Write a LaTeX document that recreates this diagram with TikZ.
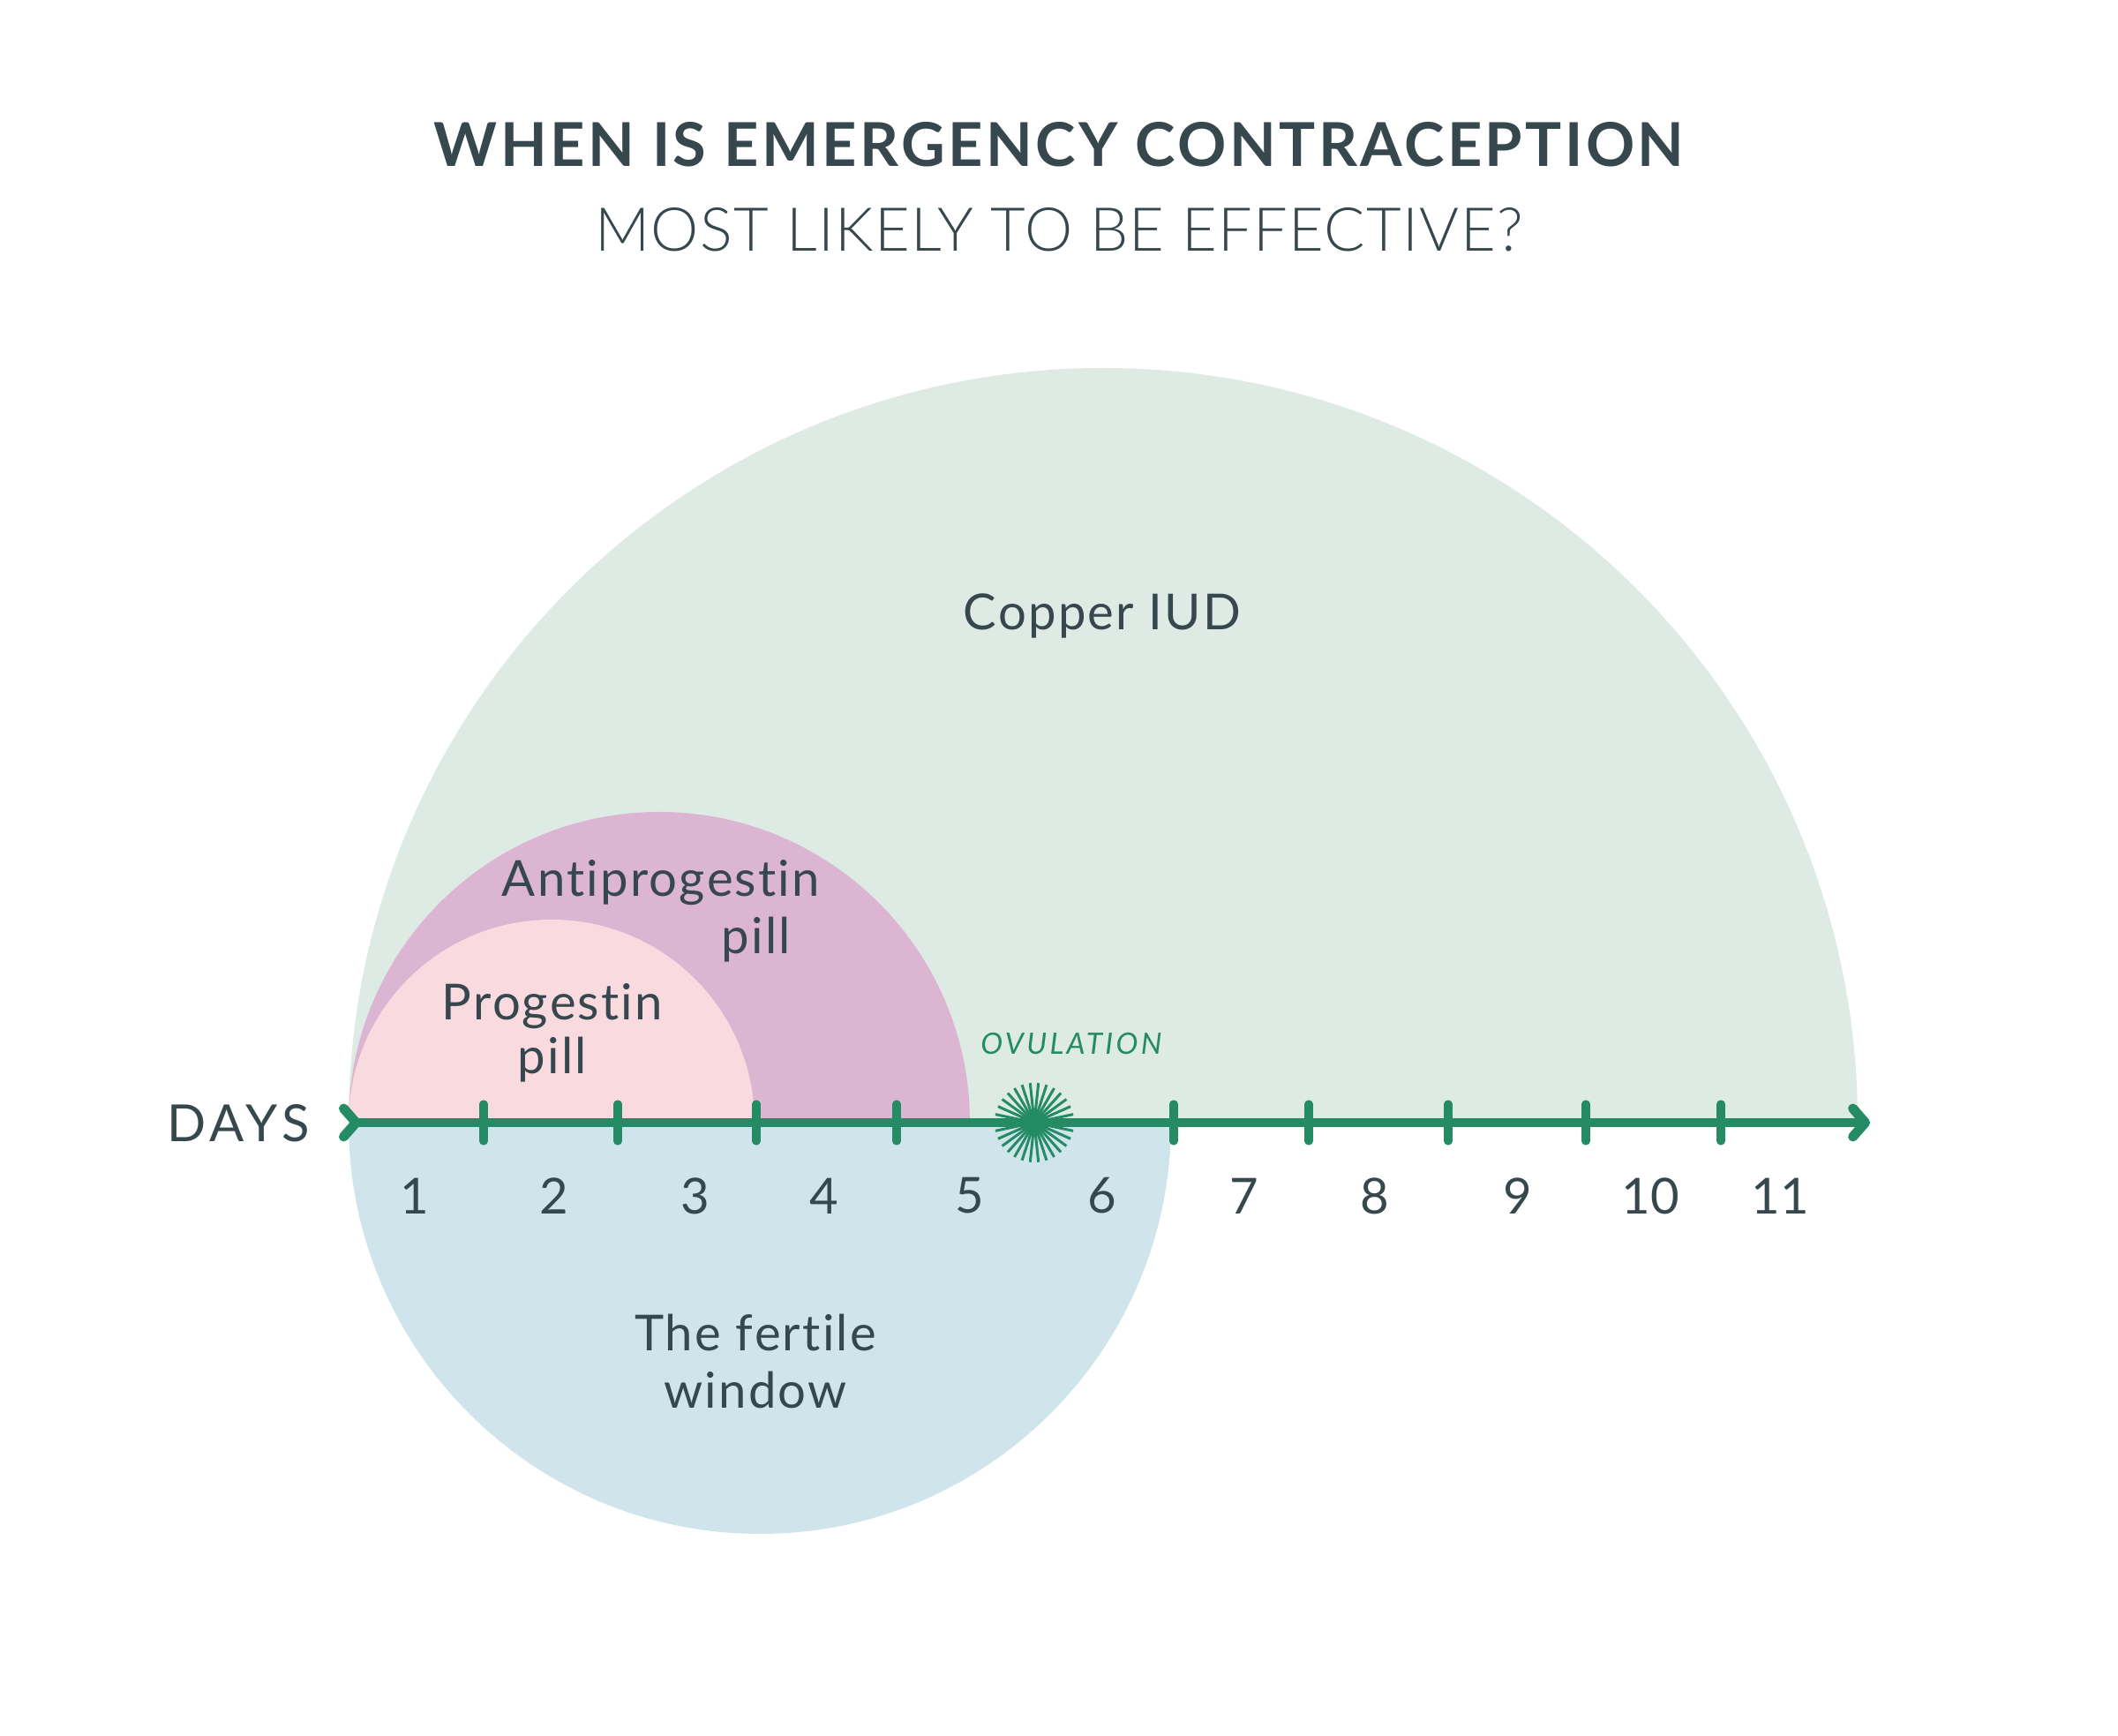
\documentclass[tikz,border=0pt]{standalone}
\usepackage{fontspec}
\setmainfont{Lato}[Ligatures=NoCommon]
\newfontfamily\lightfont{Lato Light}[Ligatures=NoCommon]
\usetikzlibrary{arrows.meta}
\definecolor{inkgrey}{RGB}{54,71,77}
\definecolor{ovgreen}{RGB}{36,139,100}
\definecolor{iudfill}{RGB}{221,235,228}
\definecolor{antifill}{RGB}{219,181,210}
\definecolor{progfill}{RGB}{249,218,222}
\definecolor{fertfill}{RGB}{207,229,235}
\tikzset{
  lbl/.style={text=inkgrey, inner sep=0pt, font=\fontsize{16}{19}\selectfont\addfontfeatures{LetterSpace=4}},
  daynum/.style={text=inkgrey, inner sep=0pt, font=\fontsize{16}{19}\selectfont},
  axisline/.style={draw=ovgreen, line width=3.1pt,
    arrows={Straight Barb[reversed,round,length=1.4mm,width=3.2mm]-Straight Barb[round,length=1.4mm,width=3.2mm]}},
  daytick/.style={draw=ovgreen, line width=2.6pt, line cap=round},
  ray/.style={draw=ovgreen, line width=0.85pt},
}

\begin{document}
\begin{tikzpicture}
\useasboundingbox (0,0) rectangle (24,19.67);
% windows
\fill[iudfill] (3.95,6.95) arc (180:0:8.55) -- cycle;
\fill[antifill] (3.95,6.95) arc (180:0:3.52) -- cycle;
\fill[progfill] (3.95,6.95) arc (180:0:2.30) -- cycle;
\fill[fertfill] (3.95,6.95) arc (180:360:4.66) -- cycle;
% titles
\node[text=inkgrey, font=\fontsize{19.5}{23}\selectfont\bfseries\addfontfeatures{LetterSpace=5}] (title) at (12.00,18.03) {WHEN IS EMERGENCY CONTRACEPTION};
\node[text=inkgrey, font=\fontsize{19.5}{23}\selectfont\lightfont\addfontfeatures{LetterSpace=2}] (subtitle) at (12.00,17.07) {MOST LIKELY TO BE EFFECTIVE?};
% window labels
\node[lbl] (iud) at (12.49,12.69) {Copper IUD};
\node[lbl] (anti) at (7.49,9.67) {Antiprogestin};
\node[lbl] (antipill) at (8.57,9.02) {pill};
\node[lbl] (prog) at (6.26,8.27) {Progestin};
\node[lbl] (progpill) at (6.26,7.66) {pill};
\node[lbl] (fert) at (8.56,4.57) {The fertile};
\node[lbl] (window) at (8.56,3.92) {window};
% day axis
\node[text=inkgrey, inner sep=0pt, font=\fontsize{16.5}{20}\selectfont\addfontfeatures{LetterSpace=10}] (days) at (2.70,6.94) {DAYS};
\coordinate (axstart) at (3.84,6.95);
\coordinate (axend) at (21.19,6.95);
\draw[axisline] (axstart) -- (axend);
\foreach \x in {5.48,7.00,8.57,10.16,13.30,14.83,16.41,17.97,19.50}
  \draw[daytick] (\x,6.74) -- (\x,7.16);
\foreach \x/\d in {4.70/1,6.28/2,7.88/3,9.34/4,10.99/5,12.49/6,14.10/7,15.58/8,17.20/9,18.70/10,20.17/11}
  \node[daynum] (day\d) at (\x,6.12) {\d};
% ovulation
\coordinate (ovu) at (11.72,6.95);
\foreach \a in {0,12,...,348}
  \draw[ray] (ovu) -- ++(\a:0.45);
\node[text=ovgreen, inner sep=0pt, font=\fontsize{9.5}{11}\selectfont\itshape\addfontfeatures{LetterSpace=10}] (ovlabel) at (12.14,7.84) {OVULATION};
\end{tikzpicture}
\end{document}
